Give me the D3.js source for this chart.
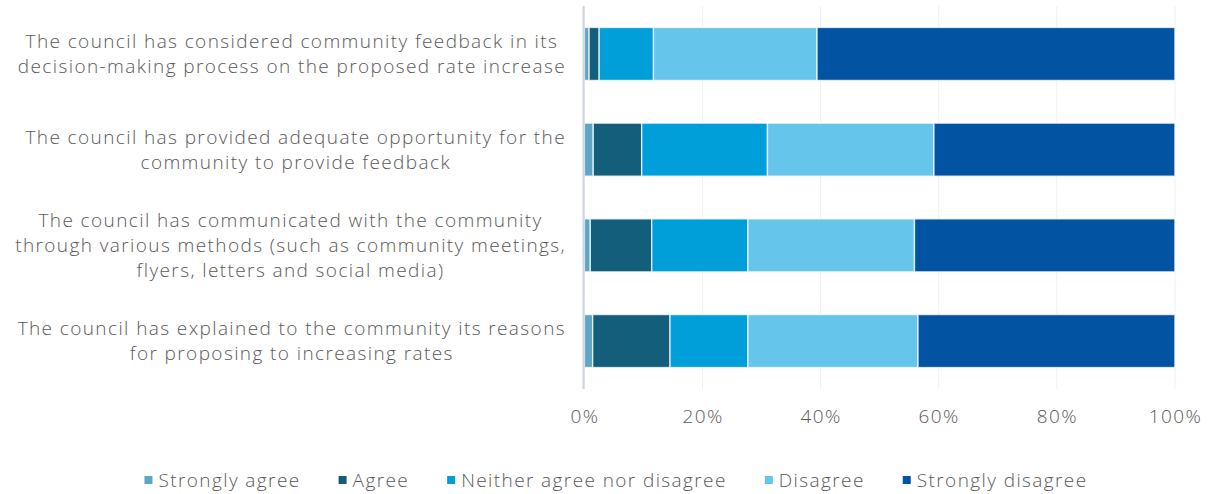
<!DOCTYPE html>
<html>
<head>
<meta charset="utf-8">
<script src="https://cdn.jsdelivr.net/npm/d3@7"></script>
<style>
  html, body { margin: 0; padding: 0; background: #ffffff; }
  svg { display: block; }
  text { font-family: "Open Sans", Lato, sans-serif; font-weight: 300; fill: #595959; letter-spacing: 1.4px; }
</style>
</head>
<body>
<svg id="chart" width="1212" height="494"></svg>
<script>
// Survey statements (each entry is one wrapped label)
const statements = [
  ["The council has considered community feedback in its", "decision-making process on the proposed rate increase"],
  ["The council has provided adequate opportunity for the", "community to provide feedback"],
  ["The council has communicated with the community", "through various methods (such as community meetings,", "flyers, letters and social media)"],
  ["The council has explained to the community its reasons", "for proposing to increasing rates"]
];

// Response categories, in stacking order
const responses = ["Strongly agree", "Agree", "Neither agree nor disagree", "Disagree", "Strongly disagree"];
const responseColors = ["#5ea6c5", "#135e7b", "#009fda", "#66c5ea", "#0353a3"];

// Share of respondents (%) per statement, one array per response
const stronglyAgree = [0.8, 1.5, 1.0, 1.4];
const agree         = [1.7, 8.2, 10.4, 13.1];
const neither       = [9.2, 21.3, 16.3, 13.2];
const disagree      = [27.7, 28.2, 28.2, 28.8];
const stronglyDis   = [60.6, 40.8, 44.1, 43.5];

const tickValues = [0, 20, 40, 60, 80, 100];

const seriesValues = [stronglyAgree, agree, neither, disagree, stronglyDis];
const rows = statements.map((s, i) => {
  const r = { key: i };
  responses.forEach((name, j) => { r[name] = seriesValues[j][i]; });
  return r;
});

const svg = d3.select("#chart");
const plotTop = 6, plotBottom = 389;

const x = d3.scaleLinear().domain([0, 100]).range([584.4, 1174.9]);
const y = d3.scaleBand()
  .domain(d3.range(statements.length))
  .range([plotTop, plotBottom])
  .paddingInner(0.446)
  .paddingOuter(0.224);
const color = d3.scaleOrdinal().domain(responses).range(responseColors);

// Vertical gridlines
svg.append("g")
  .selectAll("line")
  .data(tickValues.slice(1))
  .join("line")
  .attr("x1", d => x(d)).attr("x2", d => x(d))
  .attr("y1", plotTop).attr("y2", plotBottom)
  .attr("stroke", "#f0f0f0")
  .attr("stroke-width", 1);

// Stacked bars
const stacked = d3.stack().keys(responses)(rows);
svg.append("g")
  .selectAll("g")
  .data(stacked)
  .join("g")
  .attr("fill", d => color(d.key))
  .selectAll("rect")
  .data(d => d)
  .join("rect")
  .attr("x", d => x(d[0]))
  .attr("width", d => x(d[1]) - x(d[0]))
  .attr("y", (d, i) => y(i))
  .attr("height", y.bandwidth())
  .attr("stroke", "#ffffff")
  .attr("stroke-opacity", 0.75)
  .attr("stroke-width", 1.4);

// Category axis line
svg.append("line")
  .attr("x1", x(0) - 0.8).attr("x2", x(0) - 0.8)
  .attr("y1", plotTop).attr("y2", plotBottom)
  .attr("stroke", "#cfd5dd")
  .attr("stroke-width", 2.2);

// Percentage axis labels
const xAxis = d3.axisBottom(x)
  .tickValues(tickValues)
  .tickFormat(d => d + "%")
  .tickSize(0)
  .tickPadding(0);
const gx = svg.append("g")
  .attr("transform", "translate(0,409)")
  .call(xAxis);
gx.select(".domain").remove();
gx.selectAll("text")
  .attr("dy", "0.71em")
  .style("font-family", "\"Open Sans\", Lato, sans-serif")
  .style("font-weight", 300)
  .style("font-size", "19px")
  .style("letter-spacing", "1.4px")
  .attr("fill", "#595959");

// Statement labels: each block centred on its own lines, right edge against the axis
const labelRight = 566;
const lineGap = 25;
const labels = svg.append("g").style("font-size", "19px");
statements.forEach((lines, i) => {
  const g = labels.append("g");
  const cy = y(i) + y.bandwidth() / 2;
  const texts = g.selectAll("text")
    .data(lines)
    .join("text")
    .attr("text-anchor", "middle")
    .attr("y", (d, k) => cy + (k - (lines.length - 1) / 2) * lineGap)
    .attr("dy", "0.35em")
    .text(d => d);
  let maxW = 0;
  texts.each(function () { maxW = Math.max(maxW, this.getComputedTextLength()); });
  texts.attr("x", labelRight - maxW / 2);
});

// Legend
const legend = svg.append("g").style("font-size", "19px");
const items = legend.selectAll("g")
  .data(responses)
  .join("g");
items.append("rect")
  .attr("width", 8).attr("height", 8)
  .attr("y", -4)
  .attr("fill", d => color(d));
items.append("text")
  .attr("x", 14)
  .attr("dy", "0.35em")
  .text(d => d);
let cursor = 0;
const offsets = [];
items.each(function () {
  offsets.push(cursor);
  cursor += 14 + d3.select(this).select("text").node().getComputedTextLength() + 38;
});
const totalW = cursor - 38;
const legendStart = 616 - totalW / 2;
items.attr("transform", (d, i) => `translate(${legendStart + offsets[i]},480)`);
</script>
</body>
</html>
